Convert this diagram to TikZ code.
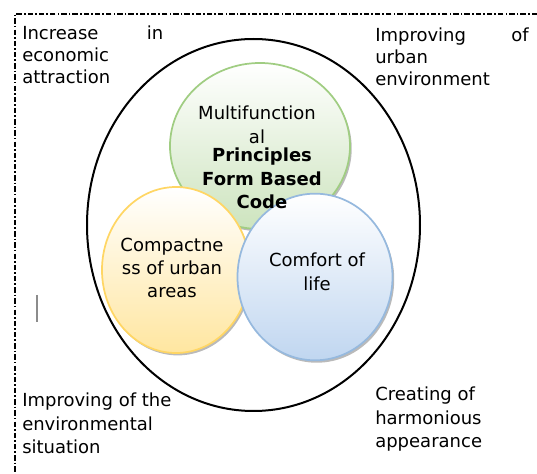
\documentclass[tikz,border=0pt]{standalone}
\usepackage{fontspec}
\setmainfont{DejaVu Sans}
\usepackage{tikz}
\usetikzlibrary{shapes.geometric, shadows}

\definecolor{greenline}{RGB}{160,205,130}
\definecolor{greenfill}{RGB}{205,228,190}
\definecolor{yellowline}{RGB}{255,214,100}
\definecolor{yellowfill}{RGB}{255,230,160}
\definecolor{blueline}{RGB}{150,185,222}
\definecolor{bluefill}{RGB}{192,214,240}

\begin{document}
\begin{tikzpicture}[x=0.75pt, y=-0.75pt,
    txt/.style={inner sep=0pt, font=\fontsize{13.5}{16.5}\selectfont},
    intxt/.style={txt, align=center, font=\fontsize{13.5}{17.3}\selectfont},
    bubble/.style={ellipse, line width=1.3pt, inner sep=0pt,
      drop shadow={shadow xshift=1.3pt, shadow yshift=-1.8pt, fill=black!60, opacity=.45}}
  ]
    \useasboundingbox (0,0) rectangle (537,474);

    \draw[line width=1pt, dash pattern=on 4pt off 1.6pt on 1.2pt off 1.6pt]
      (537,14) -- (15,14) -- (15,474);

    \node[ellipse, draw, line width=1.5pt, minimum width=249.75pt, minimum height=279pt]
      (outer) at (253.5,225) {};

    \node[bubble, draw=greenline, top color=white, bottom color=greenfill,
      minimum width=135pt, minimum height=124.5pt] (multi) at (260,146) {};
    \node[bubble, draw=yellowline, top color=white, bottom color=yellowfill,
      minimum width=111pt, minimum height=124.5pt] (compact) at (176,270) {};
    \node[bubble, draw=blueline, top color=white, bottom color=bluefill,
      minimum width=116.25pt, minimum height=125pt] (comfort) at (315,277) {};

    \node[intxt, anchor=north] (multitxt) at (257,106) {Multifunction\\al};
    \node[intxt, anchor=north, font=\fontsize{13.5}{17.3}\selectfont\bfseries]
      (principles) at (262,148) {Principles\\Form Based\\Code};
    \node[intxt, anchor=north] (compacttxt) at (172,238) {Compactne\\ss of urban\\areas};
    \node[intxt, anchor=north] (comforttxt) at (317,253) {Comfort of\\life};

    \node[txt, anchor=north west, text width=105.75pt, align=left]
      (econ) at (22,26) {Increase\hfill in\\economic\\attraction};
    \node[txt, anchor=north west, text width=115pt, align=left]
      (urban) at (375,28) {Improving\hfill of\\urban\\environment};
    \node[txt, anchor=north west, align=left, font=\fontsize{13.5}{17.5}\selectfont]
      (envir) at (22,393) {Improving of the\\environmental\\situation};
    \node[txt, anchor=north west, align=left, font=\fontsize{13.5}{17.5}\selectfont]
      (harmon) at (375,387) {Creating of\\harmonious\\appearance};

    \draw[black!45, line width=1.1pt] (37,295) -- (37,322);
\end{tikzpicture}
\end{document}
